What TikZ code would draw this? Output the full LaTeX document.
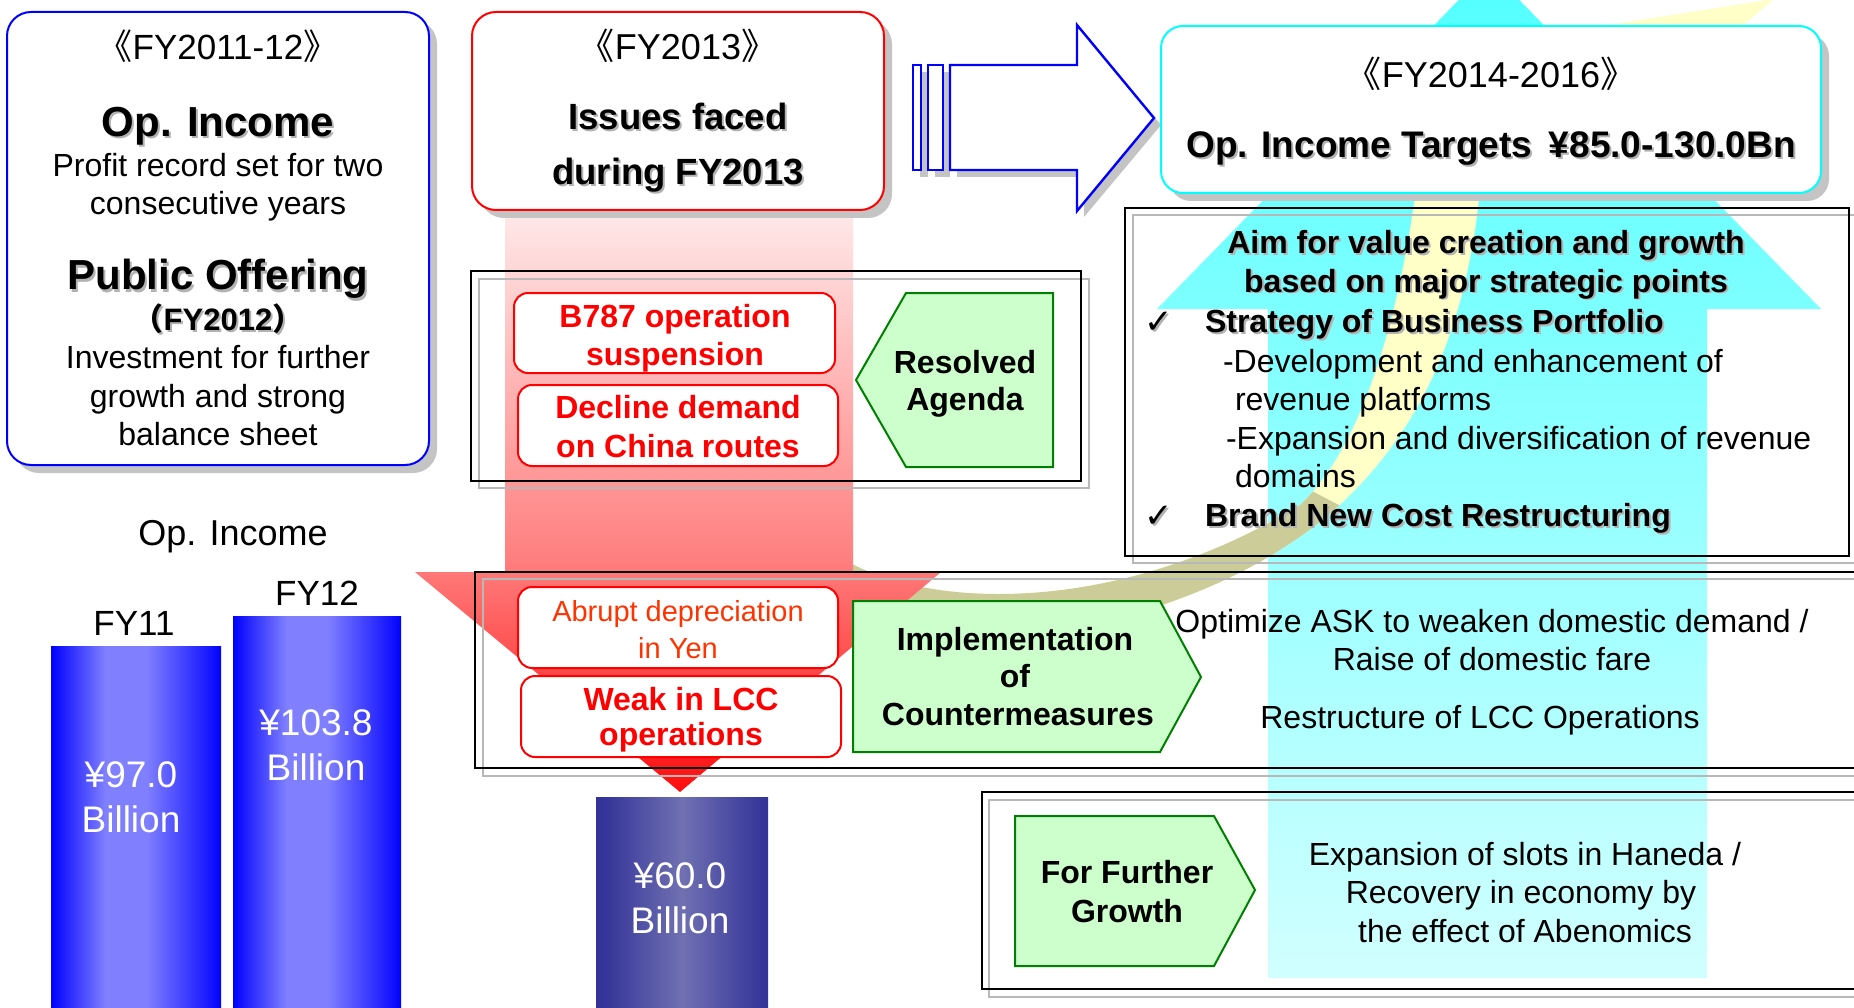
\documentclass[tikz,border=0pt]{standalone}
\usepackage{fontspec}
\setmainfont{Liberation Sans}
\newfontfamily\cjkfont{Noto Sans CJK JP}
\newfontfamily\symbolfont{DejaVu Sans}
\usetikzlibrary{calc}

\newcommand\fsz[1]{\fontsize{#1pt}{#1pt}\selectfont}
\newcommand\dbopen{{\cjkfont 《}}
\newcommand\dbclose{{\cjkfont 》}}
\newcommand\wopen{{\cjkfont （}}
\newcommand\wclose{{\cjkfont ）}}
\newcommand\checkglyph{{\symbolfont ✓}}

\definecolor{boxgreen}{HTML}{CCFFCC}
\definecolor{edgegreen}{HTML}{008000}
\definecolor{shadowgrey}{HTML}{C4C4C4}
\definecolor{framegrey}{HTML}{B8B8B8}
\definecolor{yenorange}{HTML}{FF3300}
\definecolor{khaki}{HTML}{CCCC99}
\definecolor{paleyellow}{HTML}{FFFFC8}
\definecolor{barlight}{HTML}{8080FF}
\definecolor{darkbar}{HTML}{333399}
\definecolor{darkbarlight}{HTML}{7070B2}
\definecolor{aqua}{HTML}{00FFFF}

% vertical fade of the falling red arrow (bottom = 25bp, top = 75bp)
\pgfdeclareverticalshading{redfall}{100bp}{color(0bp)=(red!95!white); color(25bp)=(red!95!white); color(45bp)=(red!50!white); color(75bp)=(red!8!white); color(100bp)=(red!8!white)}
% vertical fade of the rising cyan arrow
\pgfdeclareverticalshading{cyanrise}{100bp}{color(0bp)=(aqua!18!white); color(25bp)=(aqua!18!white); color(75bp)=(aqua!68!white); color(100bp)=(aqua!68!white)}
% cylinder-like fills of the bars
\pgfdeclarehorizontalshading{brightbar}{100bp}{color(0bp)=(blue); color(25bp)=(blue); color(41bp)=(barlight); color(53bp)=(barlight); color(72bp)=(blue!92!white); color(75bp)=(blue); color(100bp)=(blue)}
\pgfdeclarehorizontalshading{darkbarfill}{100bp}{color(0bp)=(darkbar); color(27bp)=(darkbar); color(50bp)=(darkbarlight); color(70bp)=(darkbar!95!white); color(75bp)=(darkbar); color(100bp)=(darkbar)}

% text with a soft grey drop shadow
\newcommand\shadowtext[4][]{%
  \node[txt,#1,text=black!30] at ([xshift=2pt,yshift=-2pt]#3) {#4};%
  \node[txt,#1] (#2) at (#3) {#4};}

\begin{document}
\begin{tikzpicture}[x=1pt,y=-1pt,
  txt/.style={anchor=base,inner sep=0pt,outer sep=0pt},
  regular/.style={font=\fsz{32}},
  heavy/.style={font=\fsz{32}\bfseries},
  shadowfill/.style={fill=shadowgrey,draw=none},
  redbox/.style={fill=white,draw=red,line width=2pt,rounded corners=14pt},
  greenshape/.style={fill=boxgreen,draw=edgegreen,line width=2pt},
  blackframe/.style={draw=black,line width=2pt},
  greyframe/.style={draw=framegrey,line width=2pt},
  bluearrow/.style={fill=white,draw=blue,line width=2.4pt,line join=miter}]

\useasboundingbox (0,0) rectangle (1854,1008);
\clip (0,0) rectangle (1854,1008);
\fill[white] (0,0) rectangle (1854,1008);

% rising cyan arrow behind the right column
\shade[shading=cyanrise] (1489,-31) -- (1821,309) -- (1707,309) -- (1707,978)
  -- (1268,978) -- (1268,309) -- (1157,309) -- cycle;

% curved ribbon arrow: pale front face, khaki underside
\def\ribbonpath{(845,560) .. controls (930,610) and (1120,615) .. (1300,505)
  .. controls (1362,447) and (1398,320) .. (1416,190) -- (1480,190)
  .. controls (1466,330) and (1420,440) .. (1320,522)
  .. controls (1230,592) and (1100,640) .. (900,650) -- cycle}
\fill[paleyellow] \ribbonpath;
\begin{scope}
  \clip (700,470) -- (1272,470) -- (1352,512) -- (1352,700) -- (700,700) -- cycle;
  \fill[khaki] \ribbonpath;
\end{scope}
\fill[paleyellow] (1602,26) -- (1774,-1) -- (1742,26) -- cycle;

% falling red arrow
\shade[shading=redfall] (505,205) -- (853,205) -- (853,572) -- (941,572)
  -- (680,792) -- (415,572) -- (505,572) -- cycle;

% double frames
\draw[greyframe] (479,279) rectangle (1089,488);
\draw[blackframe] (471,271) rectangle (1081,481);
\draw[greyframe] (1133,215) rectangle (1862,563);
\draw[blackframe] (1125,208) rectangle (1849,556);
\draw[greyframe] (483,579) rectangle (1870,776);
\draw[blackframe] (475,572) rectangle (1870,768);
\draw[greyframe] (989,800) rectangle (1870,997);
\draw[blackframe] (982,792) rectangle (1870,989);

% FY2011-12 box
\fill[shadowfill,rounded corners=24pt] (15,20) rectangle (437,473);
\draw[fill=white,draw=blue,line width=2pt,rounded corners=24pt] (7,12) rectangle (429,465);

% FY2013 box
\fill[shadowfill,rounded corners=24pt] (480,20) rectangle (892,218);
\draw[fill=white,draw=red,line width=2pt,rounded corners=24pt] (472,12) rectangle (884,210);

% block arrow towards the targets
\fill[shadowfill] (920,72) rectangle (928,177);
\fill[shadowfill] (935,72) rectangle (950,177);
\fill[shadowfill] (957,72) -- (1084,72) -- (1084,32) -- (1161,125) -- (1084,217)
  -- (1084,177) -- (957,177) -- cycle;
\draw[bluearrow] (913,65) rectangle (921,170);
\draw[bluearrow] (928,65) rectangle (943,170);
\draw[bluearrow] (950,65) -- (1077,65) -- (1077,25) -- (1154,118) -- (1077,211)
  -- (1077,170) -- (950,170) -- cycle;

% FY2014-2016 box
\fill[shadowfill,rounded corners=22pt] (1169,34) rectangle (1829,201);
\draw[fill=white,draw=aqua,line width=2pt,rounded corners=22pt] (1161,26) rectangle (1821,193);

% issue boxes
\draw[redbox] (514,293) rectangle (835,373);
\draw[redbox] (518,385) rectangle (838,466);
\draw[redbox] (518,587) rectangle (838,668);
\draw[redbox] (521,676) rectangle (841,757);

% green pentagons
\draw[greenshape] (906,293) -- (1053,293) -- (1053,467) -- (906,467) -- (856,380) -- cycle;
\draw[greenshape] (853,601) -- (1160,601) -- (1201,677) -- (1160,752) -- (853,752) -- cycle;
\draw[greenshape] (1015,816) -- (1214,816) -- (1255,890) -- (1214,966) -- (1015,966) -- cycle;

% operating income bars
\shade[shading=brightbar] (51,646) rectangle (221,1012);
\shade[shading=brightbar] (233,616) rectangle (401,1012);
\shade[shading=darkbarfill] (596,797) rectangle (768,1012);

% ---- texts: FY2011-12 box
\node[txt,font=\fsz{35}] (t1head) at (218,60) {\dbopen FY2011-12\dbclose};
\shadowtext[font=\fsz{42}\bfseries]{t1op}{218,137}{Op. Income}
\node[txt,regular] (t1a) at (218,177) {Profit record set for two};
\node[txt,regular] (t1b) at (218,215) {consecutive years};
\shadowtext[font=\fsz{42}\bfseries]{t1pub}{218,290}{Public Offering}
\shadowtext[font=\fsz{31}\bfseries]{t1yr}{218,330}{\wopen FY2012\wclose}
\node[txt,regular] (t1c) at (218,368) {Investment for further};
\node[txt,regular] (t1d) at (218,407) {growth and strong};
\node[txt,regular] (t1e) at (218,445) {balance sheet};

% ---- FY2013 box
\node[txt,font=\fsz{36}] (t2head) at (678,60) {\dbopen FY2013\dbclose};
\shadowtext[font=\fsz{36.5}\bfseries]{t2a}{678,130}{Issues faced}
\shadowtext[font=\fsz{36.5}\bfseries]{t2b}{678,185}{during FY2013}

% ---- FY2014-2016 box
\node[txt,font=\fsz{36}] (t3head) at (1491,88) {\dbopen FY2014-2016\dbclose};
\shadowtext[font=\fsz{37}\bfseries]{t3a}{1491,158}{Op. Income Targets\hspace{0.45em}¥85.0-130.0Bn}

% ---- strategic points
\shadowtext[heavy]{aim1}{1486,254}{Aim for value creation and growth}
\shadowtext[heavy]{aim2}{1486,292}{based on major strategic points}
\shadowtext[anchor=base west,font=\fsz{34}]{chk1}{1144,333}{\checkglyph}
\shadowtext[heavy,anchor=base west]{pt1}{1205,332}{Strategy of Business Portfolio}
\node[txt,regular,anchor=base west] (pt1a) at (1223,372) {-Development and enhancement of};
\node[txt,regular,anchor=base west] (pt1b) at (1235,410) {revenue platforms};
\node[txt,regular,anchor=base west] (pt1c) at (1226,449) {-Expansion and diversification of revenue};
\node[txt,regular,anchor=base west] (pt1d) at (1235,487) {domains};
\shadowtext[anchor=base west,font=\fsz{34}]{chk2}{1144,527}{\checkglyph}
\shadowtext[heavy,anchor=base west]{pt2}{1205,526}{Brand New Cost Restructuring}

% ---- issue boxes
\node[txt,heavy,text=red] (i1a) at (675,327) {B787 operation};
\node[txt,heavy,text=red] (i1b) at (675,365) {suspension};
\node[txt,heavy,text=red] (i2a) at (678,418) {Decline demand};
\node[txt,heavy,text=red] (i2b) at (678,457) {on China routes};
\node[txt,font=\fsz{29},text=yenorange] (i3a) at (678,621) {Abrupt depreciation};
\node[txt,font=\fsz{29},text=yenorange] (i3b) at (678,658) {in Yen};
\node[txt,heavy,text=red] (i4a) at (681,710) {Weak in LCC};
\node[txt,heavy,text=red] (i4b) at (681,745) {operations};

% ---- green labels
\node[txt,heavy] (g1a) at (965,373) {Resolved};
\node[txt,heavy] (g1b) at (965,410) {Agenda};
\node[txt,heavy] (g2a) at (1015,650) {Implementation};
\node[txt,heavy] (g2b) at (1015,687) {of};
\node[txt,heavy] (g2c) at (1018,725) {Countermeasures};
\node[txt,heavy] (g3a) at (1127,883) {For Further};
\node[txt,heavy] (g3b) at (1127,922) {Growth};

% ---- measures
\node[txt,regular] (m1) at (1492,632) {Optimize ASK to weaken domestic demand /};
\node[txt,regular] (m2) at (1492,670) {Raise of domestic fare};
\node[txt,regular] (m3) at (1480,728) {Restructure of LCC Operations};
\node[txt,regular] (f1) at (1525,865) {Expansion of slots in Haneda /};
\node[txt,regular] (f2) at (1521,903) {Recovery in economy by};
\node[txt,regular] (f3) at (1525,942) {the effect of Abenomics};

% ---- bar chart labels
\node[txt,font=\fsz{36}] (chart) at (233,545) {Op. Income};
\node[txt,font=\fsz{35}] (fy11) at (134,635) {FY11};
\node[txt,font=\fsz{35}] (fy12) at (317,605) {FY12};
\node[txt,font=\fsz{37},text=white] (v11a) at (131,787) {¥97.0};
\node[txt,font=\fsz{37},text=white] (v11b) at (131,832) {Billion};
\node[txt,font=\fsz{37},text=white] (v12a) at (316,735) {¥103.8};
\node[txt,font=\fsz{37},text=white] (v12b) at (316,780) {Billion};
\node[txt,font=\fsz{37},text=white] (v13a) at (680,888) {¥60.0};
\node[txt,font=\fsz{37},text=white] (v13b) at (680,933) {Billion};
\end{tikzpicture}
\end{document}
